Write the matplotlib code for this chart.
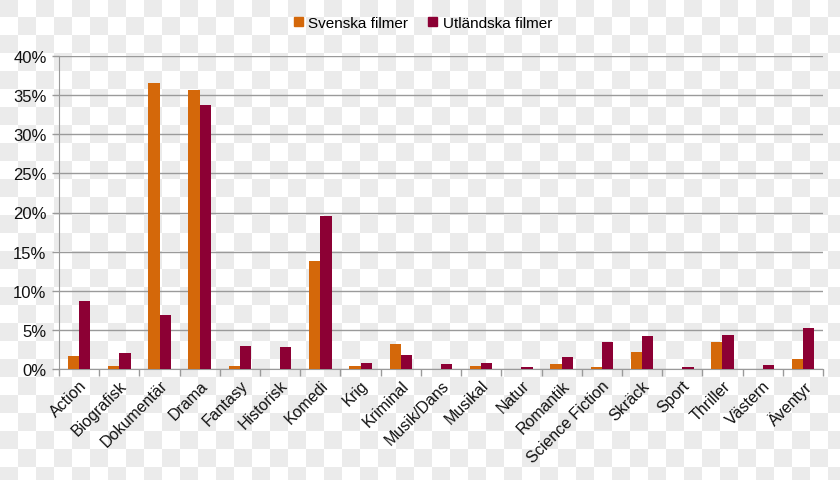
import numpy as np
import matplotlib
matplotlib.use("Agg")
import matplotlib.pyplot as plt
from matplotlib.patches import Patch

plt.rcParams['font.family'] = ['Liberation Sans', 'DejaVu Sans']

categories = ["Action", "Biografisk", "Dokumentär", "Drama", "Fantasy", "Historisk",
              "Komedi", "Krig", "Kriminal", "Musik/Dans", "Musikal", "Natur",
              "Romantik", "Science Fiction", "Skräck", "Sport", "Thriller",
              "Västern", "Äventyr"]
svenska = [1.6, 0.35, 36.6, 35.7, 0.35, 0.0, 13.8, 0.38, 3.15, 0.0, 0.38, 0.0,
           0.64, 0.3, 2.2, 0.0, 3.5, 0.0, 1.25]
utlandska = [8.7, 2.0, 6.9, 33.7, 3.0, 2.8, 19.6, 0.77, 1.8, 0.64, 0.77, 0.2,
             1.57, 3.4, 4.2, 0.2, 4.3, 0.45, 5.3]
series_names = ["Svenska filmer", "Utländska filmer"]
yticks = [0, 5, 10, 15, 20, 25, 30, 35, 40]

C_OR = "#D4680A"
C_RD = "#8C0034"
GRID = "#9a9a9a"

W, H = 840, 481
fig = plt.figure(figsize=(W / 100, H / 100), dpi=100)

# checkerboard background
bg = fig.add_axes([0, 0, 1, 1], zorder=-10)
yy, xx = np.mgrid[0:H, 0:W]
pat = ((xx // 18 + yy // 18) % 2 == 0)
img = np.where(pat[..., None], np.array([235, 235, 235]) / 255, np.array([1.0, 1.0, 1.0]))
bg.imshow(img, extent=[0, W, H, 0], interpolation="nearest", aspect="auto")
bg.axis("off")

ax = fig.add_axes([59 / W, 1 - 370 / H, (823 - 59) / W, (370 - 57) / H])
ax.set_facecolor("none")

x = np.arange(len(categories))
bw = 0.28
ax.bar(x - bw / 2, svenska, width=bw, color=C_OR, zorder=3)
ax.bar(x + bw / 2, utlandska, width=bw, color=C_RD, zorder=3)

ax.set_xlim(-0.5, len(categories) - 0.5)
ax.set_ylim(0, 40)
ax.set_yticks(yticks)
ax.set_yticklabels([f"{v}%" for v in yticks])
ax.yaxis.grid(True, color=GRID, lw=1.0, zorder=0)
ax.set_axisbelow(True)

ax.set_xticks(x)
ax.set_xticklabels(categories, rotation=45, ha="right", rotation_mode="anchor")
ax.set_xticks(np.arange(-0.5, len(categories), 1), minor=True)
ax.tick_params(axis="x", which="major", length=0, pad=6, labelsize=11.5, labelcolor="#111111")
ax.tick_params(axis="x", which="minor", length=5, color=GRID, width=1)
ax.tick_params(axis="y", length=5, color=GRID, width=1, pad=4, labelsize=12, labelcolor="#111111")

for s in ["top", "right"]:
    ax.spines[s].set_visible(False)
ax.spines["left"].set_color(GRID)
ax.spines["bottom"].set_color(GRID)

handles = [Patch(color=C_OR), Patch(color=C_RD)]
fig.legend(handles, series_names, loc="center", bbox_to_anchor=(423 / W, 1 - 24 / H),
           ncol=2, frameon=False, fontsize=11, handlelength=0.6, handleheight=0.6,
           handletextpad=0.35, columnspacing=1.3)

fig.savefig("out.png", dpi=100)
